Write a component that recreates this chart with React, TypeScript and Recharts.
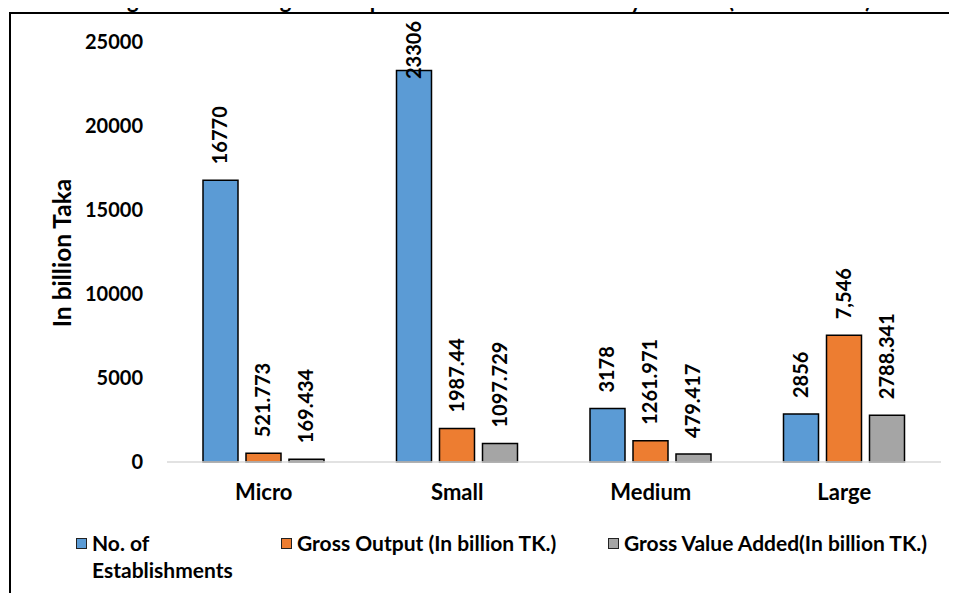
import React from "react";
import { BarChart, Bar, XAxis, YAxis, LabelList } from "recharts";

const FONT = "Lato, 'Open Sans', sans-serif";
const BLUE = "#5b9bd5";
const ORANGE = "#ed7d31";
const GREY = "#a5a5a5";

const strata = ["Micro", "Small", "Medium", "Large"];
const establishments = [16770, 23306, 3178, 2856];
const grossOutput = [521.773, 1987.44, 1261.971, 7546];
const grossOutputLabels = ["521.773", "1987.44", "1261.971", "7,546"];
const valueAdded = [169.434, 1097.729, 479.417, 2788.341];
const valueAddedLabels = ["169.434", "1097.729", "479.417", "2788.341"];
const yTicks = [0, 5000, 10000, 15000, 20000, 25000];

const data = strata.map((s, i) => ({
  stratum: s,
  estab: establishments[i],
  estabLabel: String(establishments[i]),
  output: grossOutput[i],
  outputLabel: grossOutputLabels[i],
  gva: valueAdded[i],
  gvaLabel: valueAddedLabels[i],
}));

// rotated "outside end" label, pushed down if it would run off the top
function VLabel(props: any) {
  const { x, y, width, value } = props;
  const text = String(value);
  const len = text.length * 11.4;
  const cx = Number(x) + Number(width) / 2 + 7;
  const cy = Math.max(Number(y) - 16, 22 + len);
  return (
    <text
      x={cx}
      y={cy}
      transform={`rotate(-90 ${cx} ${cy})`}
      textAnchor="start"
      fontFamily={FONT}
      fontWeight={700}
      fontSize={20}
      fill="#000"
    >
      {text}
    </text>
  );
}

const yTickStyle = { fontSize: 20, fontWeight: 700, fill: "#000", fontFamily: FONT };
const xTickStyle = { fontSize: 22, fontWeight: 700, fill: "#000", fontFamily: FONT };

function LegendItem({ color, label, width }: { color: string; label: React.ReactNode; width?: number }) {
  return (
    <div style={{ display: "flex", alignItems: "flex-start", width }}>
      <div
        style={{
          width: 9,
          height: 9,
          marginTop: 9,
          marginRight: 5,
          background: color,
          border: "1px solid #222",
          flexShrink: 0,
        }}
      />
      <div style={{ lineHeight: "27px" }}>{label}</div>
    </div>
  );
}

export default function App() {
  return (
    <div
      style={{
        position: "relative",
        width: 957,
        height: 601,
        margin: -8,
        overflow: "hidden",
        background: "#fff",
        fontFamily: FONT,
      }}
    >
      <div
        style={{
          position: "absolute",
          left: 9,
          top: 12,
          width: 960,
          height: 600,
          borderLeft: "2px solid #000",
          borderTop: "2px solid #000",
        }}
      />
      {/* title sits half above the page edge, as in the source */}
      <div
        style={{
          position: "absolute",
          left: 0,
          width: 980,
          top: -12,
          textAlign: "center",
          fontSize: 22,
          fontWeight: 700,
          lineHeight: "24px",
          whiteSpace: "nowrap",
        }}
      >
        Figure 7 Share of gross output &amp; Gross Value Added by stratum (In billion taka)
      </div>

      <div style={{ position: "absolute", left: 0, top: 0 }}>
        <BarChart
          width={957}
          height={601}
          data={data}
          margin={{ top: 42, right: 16, bottom: 79, left: 0 }}
          barSize={35}
          barGap={8}
        >
          <XAxis
            dataKey="stratum"
            height={60}
            axisLine={{ stroke: "#d9d9d9", strokeWidth: 1.5 }}
            tickLine={false}
            tickSize={0}
            tickMargin={22}
            tick={xTickStyle}
          />
          <YAxis
            width={167}
            domain={[0, 25000]}
            ticks={yTicks}
            axisLine={false}
            tickLine={false}
            tickSize={0}
            tickMargin={24}
            tick={yTickStyle}
          />
          <Bar dataKey="estab" fill={BLUE} stroke="#000" strokeWidth={1.5} isAnimationActive={false}>
            <LabelList dataKey="estabLabel" content={VLabel} />
          </Bar>
          <Bar dataKey="output" fill={ORANGE} stroke="#000" strokeWidth={1.5} isAnimationActive={false}>
            <LabelList dataKey="outputLabel" content={VLabel} />
          </Bar>
          <Bar dataKey="gva" fill={GREY} stroke="#000" strokeWidth={1.5} isAnimationActive={false}>
            <LabelList dataKey="gvaLabel" content={VLabel} />
          </Bar>
        </BarChart>
      </div>

      <div
        style={{
          position: "absolute",
          left: 61,
          top: 253,
          transform: "translate(-50%, -50%) rotate(-90deg)",
          fontSize: 24.5,
          fontWeight: 700,
          whiteSpace: "nowrap",
        }}
      >
        In billion Taka
      </div>

      <div
        style={{
          position: "absolute",
          top: 529,
          left: 0,
          width: 957,
          fontSize: 21,
          fontWeight: 700,
        }}
      >
        <div style={{ position: "absolute", left: 76 }}>
          <LegendItem color={BLUE} width={190} label={<>No. of<br />Establishments</>} />
        </div>
        <div style={{ position: "absolute", left: 281, whiteSpace: "nowrap" }}>
          <LegendItem color={ORANGE} label="Gross Output (In billion TK.)" />
        </div>
        <div style={{ position: "absolute", left: 608, whiteSpace: "nowrap" }}>
          <LegendItem color={GREY} label="Gross Value Added(In billion TK.)" />
        </div>
      </div>
    </div>
  );
}
